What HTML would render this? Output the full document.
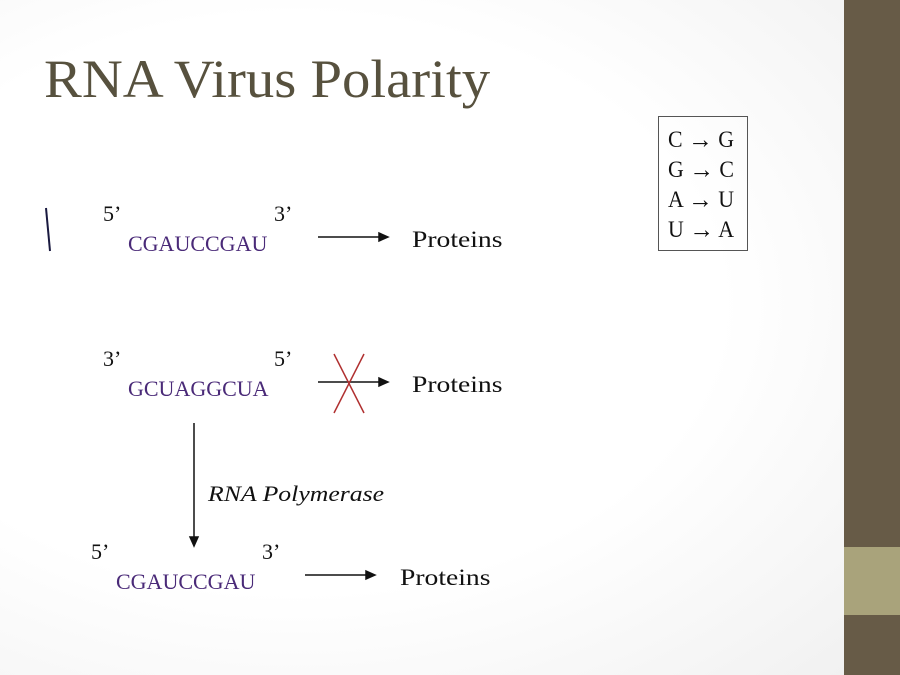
<!DOCTYPE html>
<html><head><style>
body{margin:0;width:900px;height:675px;overflow:hidden;background:#fff;font-family:"Liberation Serif",serif;position:relative}
.t{position:absolute;white-space:nowrap;color:#111;font-size:22px;line-height:1;transform-origin:0 0}
.p{color:#4a2a78}
.w{transform:scaleX(1.2)}
.a{font-weight:bold;font-size:26px;display:inline-block;transform:translateY(1px)}
</style></head><body>
<div style="position:absolute;left:0;top:0;width:844px;height:675px;background:radial-gradient(ellipse at 35% 45%,#ffffff 55%,#f1f1f1 100%)"></div>
<div style="position:absolute;left:844px;top:0;width:56px;height:675px;background:#675b47"></div>
<div style="position:absolute;left:844px;top:547px;width:56px;height:68px;background:#a9a37b"></div>
<div class="t" style="left:44px;top:52px;font-size:54px;color:#57513e;transform:scaleX(1.05)">RNA Virus Polarity</div>

<div style="position:absolute;left:658px;top:116px;width:88px;height:133px;border:1px solid #555"></div>
<div class="t" style="left:668px;top:126px;font-size:23px;transform:scaleX(0.95)">C <span class="a">→</span> G</div>
<div class="t" style="left:668px;top:156px;font-size:23px;transform:scaleX(0.95)">G <span class="a">→</span> C</div>
<div class="t" style="left:668px;top:186px;font-size:23px;transform:scaleX(0.95)">A <span class="a">→</span> U</div>
<div class="t" style="left:668px;top:216px;font-size:23px;transform:scaleX(0.95)">U <span class="a">→</span> A</div>

<svg style="position:absolute;left:0;top:0" width="900" height="675">
<path d="M46 208 L50 251" stroke="#1a1a40" stroke-width="2"/>
<g stroke="#111" stroke-width="1.5" fill="#111">
<line x1="318" y1="237" x2="380" y2="237"/><path d="M388 237 L379 233 L379 241Z"/>
<line x1="318" y1="382" x2="380" y2="382"/><path d="M388 382 L379 378 L379 386Z"/>
<line x1="194" y1="423" x2="194" y2="538"/><path d="M194 546 L190 537 L198 537Z"/>
<line x1="305" y1="575" x2="367" y2="575"/><path d="M375 575 L366 571 L366 579Z"/>
</g>
<g stroke="#b03030" stroke-width="1.5"><line x1="334" y1="354" x2="364" y2="413"/><line x1="364" y1="354" x2="334" y2="413"/></g>
</svg>

<div class="t" style="left:103px;top:203px">5’</div>
<div class="t" style="left:274px;top:203px">3’</div>
<div class="t p" style="left:128px;top:233px">CGAUCCGAU</div>
<div class="t w" style="left:412px;top:228px;font-size:23px">Proteins</div>

<div class="t" style="left:103px;top:348px">3’</div>
<div class="t" style="left:274px;top:348px">5’</div>
<div class="t p" style="left:128px;top:378px">GCUAGGCUA</div>
<div class="t w" style="left:412px;top:373px;font-size:23px">Proteins</div>

<div class="t" style="left:208px;top:483px;font-style:italic;transform:scaleX(1.17)">RNA Polymerase</div>

<div class="t" style="left:91px;top:541px">5’</div>
<div class="t" style="left:262px;top:541px">3’</div>
<div class="t p" style="left:116px;top:571px">CGAUCCGAU</div>
<div class="t w" style="left:400px;top:566px;font-size:23px">Proteins</div>
</body></html>
